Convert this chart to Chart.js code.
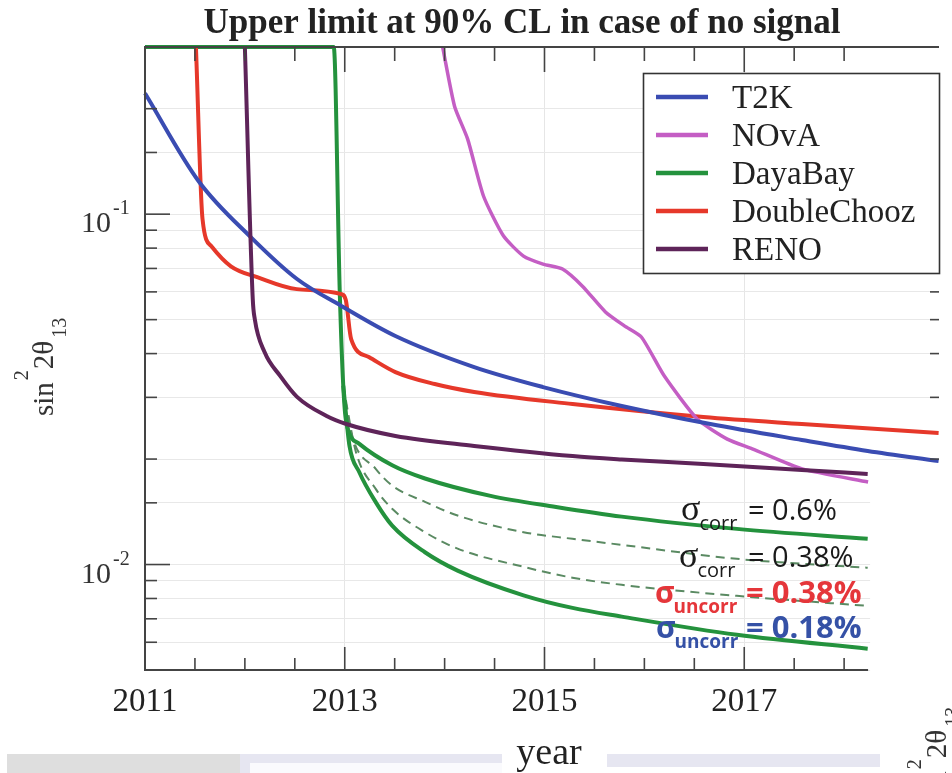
<!DOCTYPE html>
<html>
<head>
<meta charset="utf-8">
<script src="https://cdn.jsdelivr.net/npm/chart.js@4.4.1/dist/chart.umd.min.js"></script>
<style>
  html, body { margin: 0; padding: 0; background: #fff; }
  canvas { display: block; }
</style>
</head>
<body>
<canvas id="limitChart" width="952" height="773"></canvas>
<script>
// values (year, sin^2 2theta13 upper limit)
const seriesNames = ['T2K', 'NOvA', 'DayaBay', 'DoubleChooz', 'RENO'];

const t2kYears = [2011.0, 2011.537, 2012.059, 2012.522, 2012.966, 2013.507, 2014.296, 2014.985, 2015.773, 2016.66, 2017.576, 2018.236, 2018.946];
const t2kLimit = [0.2213, 0.1242, 0.086, 0.0653, 0.0547, 0.0449, 0.0366, 0.0321, 0.02835, 0.02518, 0.02267, 0.0211, 0.01975];

const novaYears = [2013.98, 2014.10, 2014.23, 2014.39, 2014.59, 2014.79, 2014.985, 2015.18, 2015.38, 2015.61, 2015.80, 2015.97, 2016.20, 2016.53, 2016.83, 2017.08, 2017.58, 2018.24];
const novaLimit = [0.3, 0.203, 0.164, 0.1125, 0.0866, 0.0759, 0.072, 0.0697, 0.0623, 0.0526, 0.048, 0.0446, 0.0345, 0.026, 0.0228, 0.0214, 0.01875, 0.0172];

const dybYears = [2011.0, 2012.89, 2012.95, 2012.985, 2013.015, 2013.146, 2013.475, 2013.803, 2014.46, 2015.116, 2015.773, 2016.926, 2018.236];
const dybLimit = [0.3, 0.3, 0.06, 0.0324, 0.0255, 0.0221, 0.0192, 0.0176, 0.0157, 0.0146, 0.0137, 0.01264, 0.01184];

// DayaBay variants with smaller systematics
const dybCorr038Years = [2012.985, 2013.064, 2013.31, 2013.475, 2013.803, 2014.13, 2014.79, 2015.28, 2015.773, 2016.926, 2018.236];
const dybCorr038Limit = [0.0324, 0.0238, 0.01875, 0.0168, 0.0151, 0.0138, 0.01237, 0.01184, 0.01138, 0.01038, 0.00979];
const dybUncorr038Years = [2012.985, 2013.113, 2013.31, 2013.475, 2013.803, 2014.13, 2014.79, 2015.28, 2015.773, 2016.926, 2018.236];
const dybUncorr038Limit = [0.0324, 0.0209, 0.01644, 0.01442, 0.01237, 0.0111, 0.00985, 0.00917, 0.00875, 0.00814, 0.00762];
const dybUncorr018Years = [2012.985, 2013.047, 2013.146, 2013.31, 2013.475, 2013.803, 2014.13, 2014.79, 2015.28, 2015.773, 2016.926, 2018.236];
const dybUncorr018Limit = [0.0324, 0.02185, 0.01834, 0.01507, 0.01291, 0.01084, 0.00961, 0.00817, 0.00752, 0.0071, 0.0063, 0.00575];

const dcYears = [2011.51, 2011.576, 2011.665, 2011.86, 2012.13, 2012.52, 2012.966, 2013.01, 2013.064, 2013.241, 2013.507, 2013.901, 2014.296, 2015.281, 2016.591, 2017.576, 2018.946];
const dcLimit = [0.3, 0.0968, 0.081, 0.071, 0.066, 0.0611, 0.0591, 0.057, 0.044, 0.0391, 0.03543, 0.03275, 0.03108, 0.02872, 0.02637, 0.02518, 0.02374];

const renoYears = [2012.0, 2012.079, 2012.099, 2012.197, 2012.355, 2012.522, 2012.818, 2013.015, 2013.507, 2014.296, 2015.281, 2015.773, 2016.591, 2017.576, 2018.236];
const renoLimit = [0.3, 0.0572, 0.0502, 0.0404, 0.0345, 0.0301, 0.02654, 0.02518, 0.02328, 0.0218, 0.0204, 0.01995, 0.01937, 0.01862, 0.01814];

const xTickLabels = ['2011', '2013', '2015', '2017'];
const yTickValues = [0.1, 0.01];
const yTickExponents = ['-1', '-2'];
const xAxisEnd = 2018.24;

const annotLines = [
  { sub: 'corr', text: '= 0.6%', color: '#1a1a1a' },
  { sub: 'corr', text: '= 0.38%', color: '#1a1a1a' },
  { sub: 'uncorr', text: '= 0.38%', color: '#e5363a' },
  { sub: 'uncorr', text: '= 0.18%', color: '#3551a6' }
];

const SERIF = "'Liberation Serif', 'DejaVu Serif', serif";
const SANS = "'Open Sans', 'DejaVu Sans', sans-serif";

function pts(xs, ys) {
  return xs.map((x, i) => ({ x: x, y: ys[i] }));
}

const colors = {
  T2K: '#3a4cb2',
  NOvA: '#c45ec4',
  DayaBay: '#24923d',
  DoubleChooz: '#e6382a',
  RENO: '#5e2459'
};

function line(ctx, x1, y1, x2, y2) {
  ctx.beginPath();
  ctx.moveTo(x1, y1);
  ctx.lineTo(x2, y2);
  ctx.stroke();
}

// rotated sin^2 2theta_13 label
function drawYTitle(ctx, bx, by) {
  ctx.save();
  ctx.translate(bx, by);
  ctx.rotate(-Math.PI / 2);
  ctx.fillStyle = '#333';
  ctx.textBaseline = 'alphabetic';
  ctx.textAlign = 'left';
  let cx = 0;
  ctx.font = '29px ' + SERIF;
  ctx.fillText('sin', cx, 0); cx += ctx.measureText('sin').width + 2;
  ctx.font = '20px ' + SERIF;
  ctx.fillText('2', cx, -25); cx += ctx.measureText('2').width + 1;
  ctx.font = '29px ' + SERIF;
  ctx.fillText('2\u03b8', cx, 0); cx += ctx.measureText('2\u03b8').width + 3;
  ctx.font = '20px ' + SERIF;
  ctx.fillText('13', cx, 13);
  ctx.restore();
}

const framePlugin = {
  id: 'frame',
  afterDatasetsDraw(chart) {
    const { ctx, chartArea: a, scales: { x, y } } = chart;
    const xEnd = x.getPixelForValue(xAxisEnd);
    ctx.save();

    // the lower right corner of the slide is blank
    ctx.fillStyle = '#fff';
    ctx.fillRect(xEnd + 2, 468, a.right - xEnd, chart.height - 468);

    ctx.strokeStyle = '#444';
    ctx.lineWidth = 2;
    ctx.beginPath();
    ctx.moveTo(a.right, a.top);
    ctx.lineTo(a.left, a.top);
    ctx.lineTo(a.left, a.bottom);
    ctx.lineTo(xEnd, a.bottom);
    ctx.stroke();

    // inward ticks
    ctx.lineWidth = 1.6;
    x.ticks.forEach(t => {
      const v = t.value;
      if (Math.abs(v * 2 - Math.round(v * 2)) > 1e-6) return;
      const px = x.getPixelForValue(v);
      if (px <= a.left + 1 || px >= a.right - 1) return;
      const major = xTickLabels.includes(String(v));
      const len = major ? 25 : 14;
      if (v <= xAxisEnd) line(ctx, px, a.bottom, px, a.bottom - len + 2);
      line(ctx, px, a.top, px, a.top + len);
    });
    y.ticks.forEach(t => {
      const py = y.getPixelForValue(t.value);
      if (py < a.top + 2 || py > a.bottom - 2) return;
      const major = yTickValues.some(v => Math.abs(v - t.value) < 1e-9);
      line(ctx, a.left, py, a.left + (major ? 25 : 12), py);
      if (py < 468) line(ctx, a.right, py, a.right - (major ? 14 : 9), py);
    });

    // legend box
    const lx = 643, ly = 73, lw = 296, lh = 200;
    ctx.fillStyle = '#fff';
    ctx.fillRect(lx, ly, lw, lh);
    ctx.strokeStyle = '#333';
    ctx.lineWidth = 1.6;
    ctx.strokeRect(lx + 0.5, ly + 0.5, lw, lh);
    const named = chart.data.datasets.filter(d => seriesNames.includes(d.label));
    seriesNames.forEach((name, i) => {
      const ds = named.find(d => d.label === name);
      const yy = 97 + i * 38;
      ctx.strokeStyle = ds.borderColor;
      ctx.lineWidth = 4.5;
      line(ctx, 656, yy, 708, yy);
      ctx.fillStyle = '#222';
      ctx.font = '33px ' + SERIF;
      ctx.textAlign = 'left';
      ctx.textBaseline = 'alphabetic';
      ctx.fillText(name, 732, yy + 11);
    });
    ctx.restore();
  },
  afterDraw(chart) {
    const { ctx, scales: { y } } = chart;
    ctx.save();

    // title
    ctx.fillStyle = '#222';
    ctx.font = 'bold 35px ' + SERIF;
    ctx.textAlign = 'center';
    ctx.textBaseline = 'alphabetic';
    ctx.fillText('Upper limit at 90% CL in case of no signal', 522, 33);

    // decade labels 10^-1, 10^-2
    yTickValues.forEach((v, i) => {
      const py = y.getPixelForValue(v);
      ctx.font = '30px ' + SERIF;
      ctx.textAlign = 'right';
      ctx.fillStyle = '#333';
      ctx.fillText('10', 111, py + 18);
      ctx.font = '20px ' + SERIF;
      ctx.textAlign = 'left';
      ctx.fillText(yTickExponents[i], 113, py);
    });

    drawYTitle(ctx, 53, 416);

    // systematics annotations
    const rows = [
      { sx: 681, base: 520, sigmaFont: '36px ' + SERIF, subFont: '20px ' + SANS, textFont: '29px ' + SANS, tx: 748 },
      { sx: 679, base: 567, sigmaFont: '36px ' + SERIF, subFont: '20px ' + SANS, textFont: '29px ' + SANS, tx: 748 },
      { sx: 655, base: 603, sigmaFont: 'bold 30px ' + SANS, subFont: 'bold 19px ' + SANS, textFont: 'bold 31px ' + SANS, tx: 746 },
      { sx: 656, base: 638, sigmaFont: 'bold 30px ' + SANS, subFont: 'bold 19px ' + SANS, textFont: 'bold 31px ' + SANS, tx: 746 }
    ];
    annotLines.forEach((r, i) => {
      const g = rows[i];
      ctx.fillStyle = r.color;
      ctx.textAlign = 'left';
      ctx.font = g.sigmaFont;
      ctx.fillText('\u03c3', g.sx, g.base);
      const sw = ctx.measureText('\u03c3').width;
      ctx.font = g.subFont;
      ctx.fillText(r.sub, g.sx + sw - 1, g.base + 10);
      ctx.font = g.textFont;
      ctx.fillText(r.text, g.tx, g.base);
    });

    // slide strip at the bottom
    ctx.fillStyle = '#dedede';
    ctx.fillRect(7, 754, 233, 19);
    ctx.fillStyle = '#e6e6f1';
    ctx.fillRect(240, 754, 262, 19);
    ctx.fillRect(607, 754, 273, 13);
    ctx.fillStyle = '#fafafd';
    ctx.fillRect(250, 763, 252, 10);

    ctx.fillStyle = '#222';
    ctx.font = '38px ' + SERIF;
    ctx.textAlign = 'center';
    ctx.fillText('year', 549, 764);

    // edge of the neighbouring panel
    drawYTitle(ctx, 946, 805);
    ctx.restore();
  }
};

const baseLine = { pointRadius: 0, borderWidth: 4, fill: false, cubicInterpolationMode: 'monotone', clip: { left: 2, top: 4, right: 2, bottom: 2 } };

const ctx = document.getElementById('limitChart').getContext('2d');
new Chart(ctx, {
  type: 'line',
  data: {
    datasets: [
      Object.assign({}, baseLine, { label: 'T2K', data: pts(t2kYears, t2kLimit), borderColor: colors.T2K, order: 2 }),
      Object.assign({}, baseLine, { label: 'NOvA', data: pts(novaYears, novaLimit), borderColor: colors.NOvA, order: 2, borderWidth: 3.5, cubicInterpolationMode: 'default', tension: 0.2 }),
      Object.assign({}, baseLine, { label: 'DayaBay', data: pts(dybYears, dybLimit), borderColor: colors.DayaBay, order: 5 }),
      Object.assign({}, baseLine, { label: 'DoubleChooz', data: pts(dcYears, dcLimit), borderColor: colors.DoubleChooz, order: 3 }),
      Object.assign({}, baseLine, { label: 'RENO', data: pts(renoYears, renoLimit), borderColor: colors.RENO, order: 1 }),
      Object.assign({}, baseLine, { label: 'corr 0.38%', data: pts(dybCorr038Years, dybCorr038Limit), borderColor: '#5a8a62', borderWidth: 2, borderDash: [9, 6], order: 6 }),
      Object.assign({}, baseLine, { label: 'uncorr 0.38%', data: pts(dybUncorr038Years, dybUncorr038Limit), borderColor: '#5a8a62', borderWidth: 2, borderDash: [9, 6], order: 6 }),
      Object.assign({}, baseLine, { label: 'uncorr 0.18%', data: pts(dybUncorr018Years, dybUncorr018Limit), borderColor: colors.DayaBay, order: 5 })
    ]
  },
  options: {
    responsive: false,
    animation: false,
    events: [],
    layout: { padding: { top: 47, left: 0, right: 0, bottom: 0 } },
    plugins: {
      legend: { display: false },
      title: { display: false },
      tooltip: { enabled: false }
    },
    scales: {
      x: {
        type: 'linear',
        min: 2011,
        max: 2018.95,
        border: { display: false },
        grid: {
          drawTicks: false,
          color: c => (c.tick && xTickLabels.includes(String(c.tick.value)) && c.tick.value > 2011) ? '#e6e6e6' : 'rgba(0,0,0,0)'
        },
        ticks: {
          stepSize: 0.5,
          autoSkip: false,
          maxRotation: 0,
          padding: 13,
          color: '#222',
          font: { family: SERIF, size: 33 },
          callback: v => xTickLabels.includes(String(v)) ? String(v) : ''
        },
        afterFit: s => { s.height = 103; }
      },
      y: {
        type: 'logarithmic',
        min: 0.005,
        max: 0.3,
        border: { display: false },
        grid: { drawTicks: false, color: '#e8e8e8' },
        ticks: { display: false },
        afterFit: s => { s.width = 145; }
      }
    }
  },
  plugins: [framePlugin]
});
</script>
</body>
</html>
